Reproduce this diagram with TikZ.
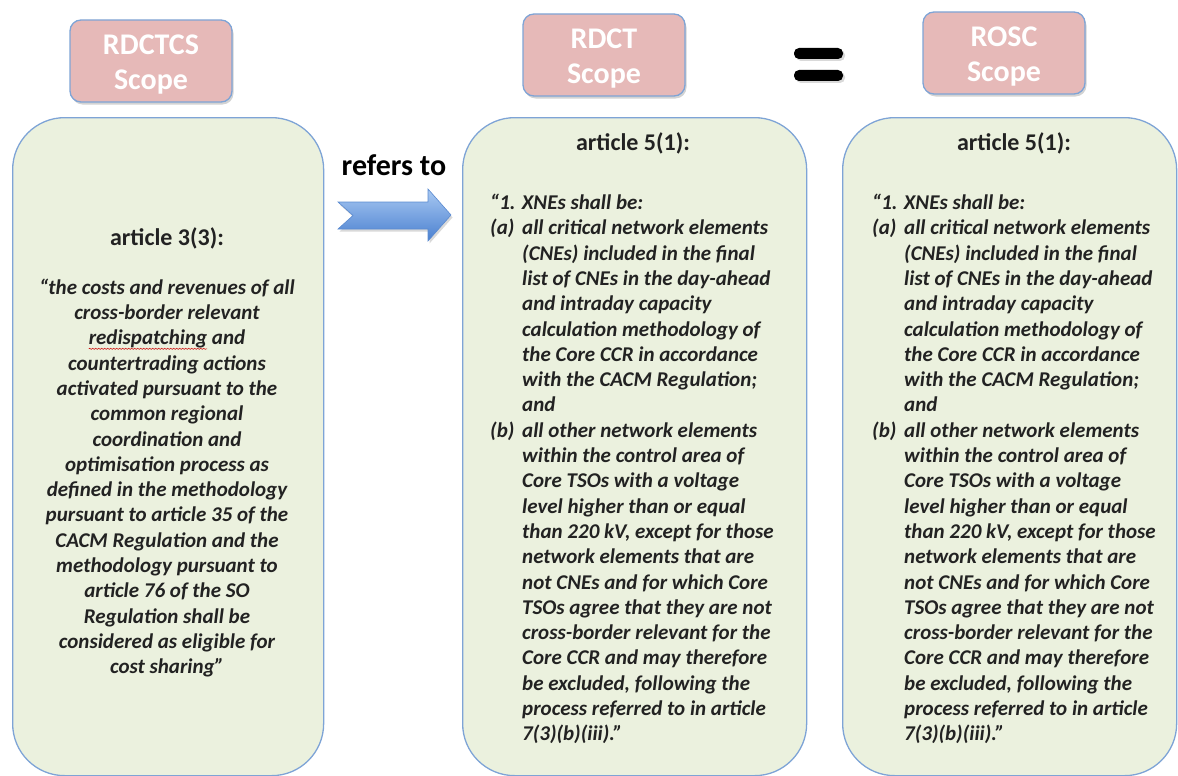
\documentclass[tikz,border=0pt]{standalone}
\usepackage{fontspec}
\setmainfont{Carlito}
\usetikzlibrary{shadows,decorations.pathmorphing}
\definecolor{greenfill}{HTML}{EBF1DE}
\definecolor{boxline}{HTML}{7EA4D6}
\definecolor{pinkfill}{HTML}{E6B9B8}
\definecolor{txt}{HTML}{222222}
\definecolor{arrowtop}{HTML}{A9C9F2}
\definecolor{arrowbot}{HTML}{4A80D0}
\definecolor{arrowline}{HTML}{5A8AD0}
\newsavebox\squigbox
\newcommand\squiggly[1]{\sbox\squigbox{#1}\tikz[overlay,baseline=0pt]\draw[red!80!black, line width=0.5pt, decorate, decoration={snake,amplitude=0.6pt,segment length=3pt}] (0pt,-4pt) -- (\wd\squigbox,-4pt);#1}
\newcommand\itemlab[1]{\makebox[32pt][l]{#1}}
\newcommand\itemind{\hspace*{32pt}}
\begin{document}
\begin{tikzpicture}[x=1pt,y=-1pt,
  panel/.style={draw=boxline, line width=1.3pt, fill=greenfill, rounded corners=52pt, inner sep=0pt},
  scopebox/.style={draw=boxline, line width=1.3pt, fill=pinkfill, rounded corners=11pt,
    minimum width=162pt, minimum height=82pt, inner sep=0pt,
    drop shadow={opacity=0.35, shadow xshift=1.5pt, shadow yshift=-2.5pt}},
  scopetext/.style={text=white, font=\bfseries\fontsize{30}{35}\selectfont, align=center, inner sep=0pt},
  title/.style={text=txt, font=\bfseries\fontsize{24}{28}\selectfont, inner sep=0pt},
  body/.style={text=txt, font=\bfseries\itshape\fontsize{21}{25.3}\selectfont, inner sep=0pt},
  bar/.style={fill=black, rounded corners=5pt,
    drop shadow={opacity=0.3, shadow xshift=2pt, shadow yshift=-2pt}},
]
\useasboundingbox (0,0) rectangle (1178,776);

% panels
\node[panel, anchor=north west, minimum width=311pt, minimum height=658pt] (p1) at (12,117) {};
\node[panel, anchor=north west, minimum width=344pt, minimum height=658pt] (p2) at (462,117) {};
\node[panel, anchor=north west, minimum width=334pt, minimum height=658pt] (p3) at (842,117) {};

% scope labels
\node[scopebox] (s1) at (151,61) {};
\node[scopebox] (s2) at (604,55) {};
\node[scopebox] (s3) at (1004,53) {};
\node[scopetext] (s1t) at ([yshift=-4pt]s1.center) {RDCTCS\\Scope};
\node[scopetext] (s2t) at ([yshift=-4pt]s2.center) {RDCT\\Scope};
\node[scopetext] (s3t) at ([yshift=-4pt]s3.center) {ROSC\\Scope};

% equals sign
\fill[bar] (794,48) rectangle (843,59);
\fill[bar] (794,70) rectangle (843,81);

% refers to arrow
\node[text=black, font=\bfseries\fontsize{30}{35}\selectfont, inner sep=0pt] (ref) at (394,165) {refers to};
\shade[top color=arrowtop, bottom color=arrowbot, draw=arrowline, line width=0.6pt,
  drop shadow={opacity=0.3, shadow xshift=1.5pt, shadow yshift=-2.5pt}]
  (338,202) -- (428,202) -- (428,189) -- (451,215) -- (428,241) -- (428,229)
  -- (338,229) -- (353,215.5) -- cycle;

% left panel text
\node[title] (t1) at (167,238) {article 3(3):};
\node[body, align=center] (q1) at (167,478) {%
“the costs and revenues of all\\
cross-border relevant\\
\squiggly{redispatching} and\\
countertrading actions\\
activated pursuant to the\\
common regional\\
coordination and\\
optimisation process as\\
defined in the methodology\\
pursuant to article 35 of the\\
CACM Regulation and the\\
methodology pursuant to\\
article 76 of the SO\\
Regulation shall be\\
considered as eligible for\\
cost sharing”};

% middle panel text
\node[title] (t2) at (633,143) {article 5(1):};
\node[body, align=left, anchor=west] (q2) at (490,469) {%
“1. XNEs shall be:\\
\itemlab{(a)}all critical network elements\\
\itemind(CNEs) included in the final\\
\itemind list of CNEs in the day-ahead\\
\itemind and intraday capacity\\
\itemind calculation methodology of\\
\itemind the Core CCR in accordance\\
\itemind with the CACM Regulation;\\
\itemind and\\
\itemlab{(b)}all other network elements\\
\itemind within the control area of\\
\itemind Core TSOs with a voltage\\
\itemind level higher than or equal\\
\itemind than 220 kV, except for those\\
\itemind network elements that are\\
\itemind not CNEs and for which Core\\
\itemind TSOs agree that they are not\\
\itemind cross-border relevant for the\\
\itemind Core CCR and may therefore\\
\itemind be excluded, following the\\
\itemind process referred to in article\\
\itemind 7(3)(b)(iii).”};

% right panel text
\node[title] (t3) at (1014,143) {article 5(1):};
\node[body, align=left, anchor=west] (q3) at (872,469) {%
“1. XNEs shall be:\\
\itemlab{(a)}all critical network elements\\
\itemind(CNEs) included in the final\\
\itemind list of CNEs in the day-ahead\\
\itemind and intraday capacity\\
\itemind calculation methodology of\\
\itemind the Core CCR in accordance\\
\itemind with the CACM Regulation;\\
\itemind and\\
\itemlab{(b)}all other network elements\\
\itemind within the control area of\\
\itemind Core TSOs with a voltage\\
\itemind level higher than or equal\\
\itemind than 220 kV, except for those\\
\itemind network elements that are\\
\itemind not CNEs and for which Core\\
\itemind TSOs agree that they are not\\
\itemind cross-border relevant for the\\
\itemind Core CCR and may therefore\\
\itemind be excluded, following the\\
\itemind process referred to in article\\
\itemind 7(3)(b)(iii).”};
\end{tikzpicture}
\end{document}
